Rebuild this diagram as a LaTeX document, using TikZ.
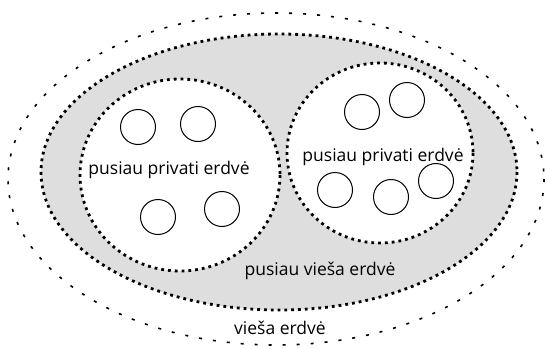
\documentclass[tikz,border=0pt]{standalone}
\usepackage{fontspec}
\setmainfont{Open Sans}
\begin{document}
\begin{tikzpicture}[x=1pt,y=-1pt,
  ball/.style={circle, draw, line width=1pt, minimum size=35pt, inner sep=0pt, fill=white},
  dots/.style={dash pattern=on 2.8pt off 4pt, line width=2.8pt},
  lbl/.style={font=\fontsize{17.5}{20}\selectfont, inner sep=0pt}]
\useasboundingbox (0,0) rectangle (548,348);
\draw[dash pattern=on 3pt off 11pt, line width=1.6pt] (276,179) ellipse [x radius=268, y radius=166];
\draw[dots, fill=black!13] (279,172) ellipse [x radius=238, y radius=138];
\draw[dots, fill=white] (180,175) ellipse [x radius=100, y radius=96];
\draw[dots, fill=white] (380,153) ellipse [x radius=93, y radius=90];
\foreach \nm/\xx/\yy in {la/138/127, lb/198/124, lc/158/217, ld/222/209,
  ra/362/112, rb/407/100, rc/335/190, rd/391/197, re/436/181} {
  \node[ball] (\nm) at (\xx,\yy) {};
}
\node[lbl] (left) at (169,170) {pusiau privati erdvė};
\node[lbl] (right) at (383,157) {pusiau privati erdvė};
\node[lbl] (semi) at (320,271) {pusiau vieša erdvė};
\node[lbl] (pub) at (280,328) {vieša erdvė};
\end{tikzpicture}
\end{document}
